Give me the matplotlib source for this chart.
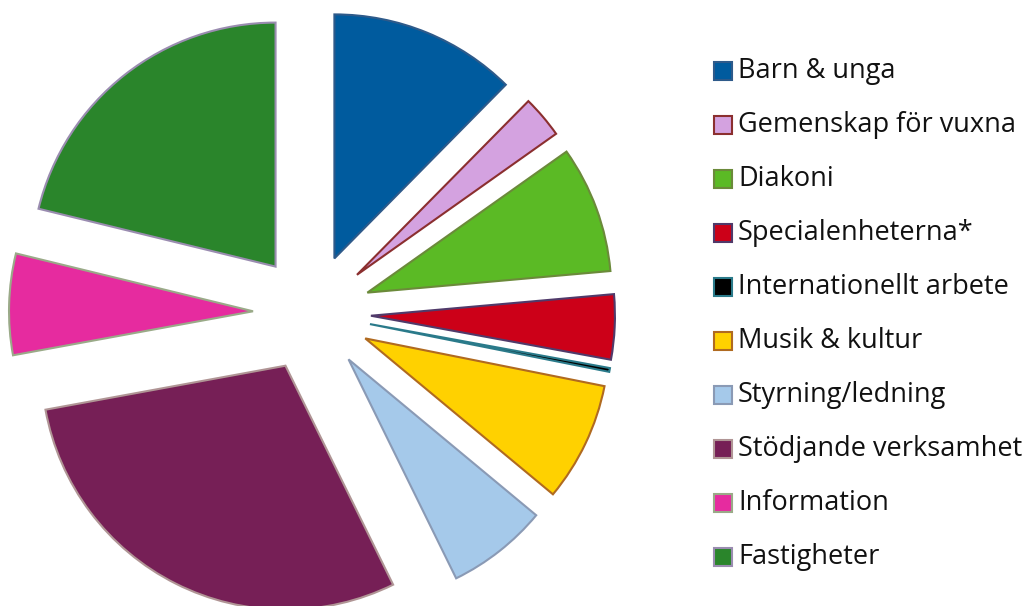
import matplotlib
matplotlib.use("Agg")
import matplotlib.pyplot as plt
from matplotlib.patches import Rectangle

labels = ["Barn & unga", "Gemenskap för vuxna", "Diakoni", "Specialenheterna*",
          "Internationellt arbete", "Musik & kultur", "Styrning/ledning",
          "Stödjande verksamhet", "Information", "Fastigheter"]
shares = [12.4, 2.8, 8.4, 4.3, 0.25, 7.9, 6.7, 29.4, 6.7, 21.2]
fills = ["#005B9E", "#D4A2E0", "#5BBA25", "#CC0018", "#000000",
         "#FFD100", "#A5C9EA", "#761F56", "#E62B9F", "#2A852B"]
edges = ["#2E5A8A", "#8B2F2F", "#6B8A3A", "#503A6A", "#2A7A8A",
         "#B06A20", "#8A9AB5", "#B09595", "#9AAA88", "#9A8CB0"]

W, H = 1027, 606
fig = plt.figure(figsize=(W / 100, H / 100), dpi=100)
ax = fig.add_axes([0, 0, 1, 1])

# pie in pixel units (y up), exploded slices clipped by the figure edge
wedges, _ = ax.pie(shares, colors=fills, startangle=90, counterclock=False,
                   radius=244, center=(312, H - 313), explode=[59] * len(shares),
                   wedgeprops=dict(linewidth=1.5))
for w, ec in zip(wedges, edges):
    w.set_edgecolor(ec)

ax.set_xlim(0, W)
ax.set_ylim(0, H)
ax.set_aspect("auto")
ax.axis("off")

# legend drawn by hand
for i, (lab, fc, ec) in enumerate(zip(labels, fills, edges)):
    yc = H - (71 + 54 * i)
    ax.add_patch(Rectangle((714, yc - 9), 18, 18, facecolor=fc, edgecolor=ec,
                           linewidth=1.5, clip_on=False))
    ax.text(738, yc, lab, fontsize=19.5, family="Open Sans", color="#111111",
            va="center", ha="left")

fig.savefig("out.png", dpi=100)
